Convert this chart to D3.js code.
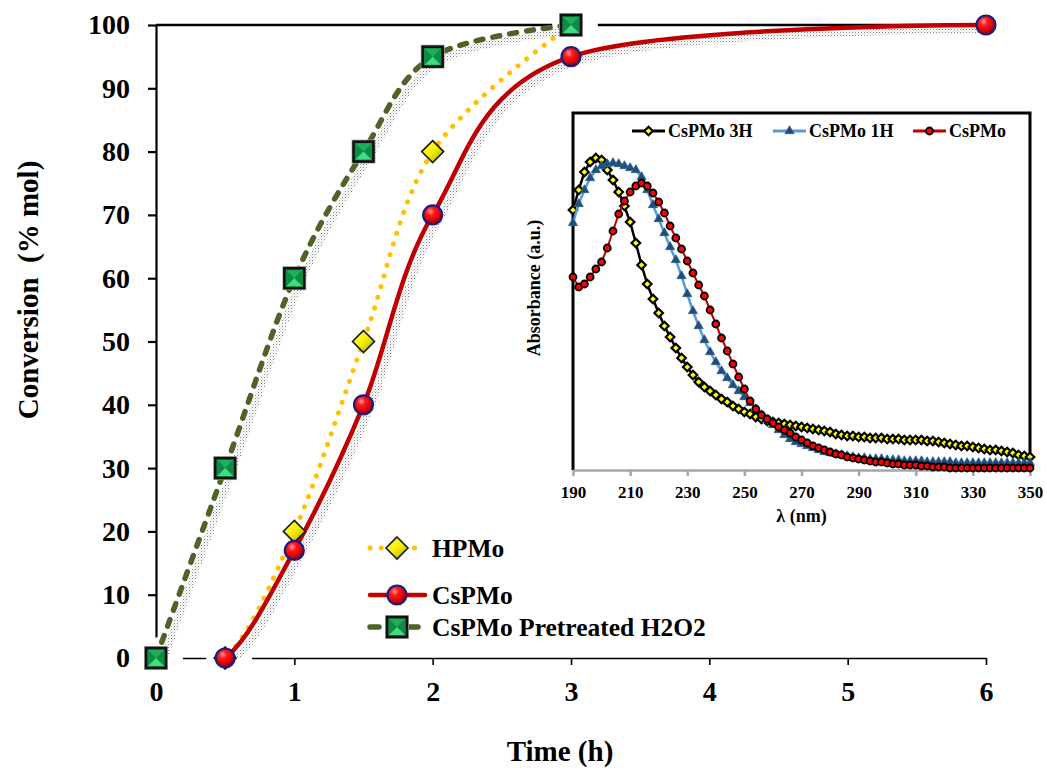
<!DOCTYPE html>
<html lang="en">
<head>
<meta charset="UTF-8">
<title>Conversion vs time</title>
<script src="https://d3js.org/d3.v7.min.js"></script>
<style>
  body { margin: 0; background: #fff; }
  svg { display: block; font-family: "Liberation Serif", "Times New Roman", serif; font-weight: bold; }
</style>
</head>
<body>
<div id="chart"></div>
<script>
const width = 1047, height = 770;

// main chart data
const timeTicks = [0, 1, 2, 3, 4, 5, 6];
const convTicks = [0, 10, 20, 30, 40, 50, 60, 70, 80, 90, 100];
const hpmoTime = [0, 0.5, 1, 1.5, 2, 3];
const hpmoConv = [0, 0, 20, 50, 80, 100];
const cspmoTime = [0, 0.5, 1, 1.5, 2, 3, 6];
const cspmoConv = [0, 0, 17, 40, 70, 95, 100];
const h2o2Time = [0, 0.5, 1, 1.5, 2, 3];
const h2o2Conv = [0, 30, 60, 80, 95, 100];

// inset (UV-vis) data, one value every 2 nm from 190 to 350
const lambdaTicks = [190, 210, 230, 250, 270, 290, 310, 330, 350];
const lambda = d3.range(190, 351, 2);
const abs3H = [
  2.60, 2.80, 2.98, 3.08, 3.12, 3.10, 3.00, 2.90, 2.78, 2.64,
  2.48, 2.27, 2.05, 1.86, 1.71, 1.57, 1.44, 1.33, 1.22, 1.12,
  1.03, 0.95, 0.88, 0.83, 0.79, 0.75, 0.71, 0.68, 0.64, 0.61,
  0.58, 0.56, 0.53, 0.51, 0.49, 0.48, 0.47, 0.46, 0.45, 0.44,
  0.43, 0.42, 0.41, 0.40, 0.39, 0.38, 0.36, 0.35, 0.34, 0.34,
  0.33, 0.33, 0.32, 0.32, 0.32, 0.31, 0.31, 0.31, 0.30, 0.30,
  0.30, 0.30, 0.29, 0.29, 0.28, 0.27, 0.26, 0.25, 0.24, 0.24,
  0.23, 0.22, 0.21, 0.20, 0.20, 0.19, 0.18, 0.17, 0.15, 0.14,
  0.13
];
const abs1H = [
  2.47, 2.66, 2.80, 2.92, 3.00, 3.04, 3.06, 3.07, 3.06, 3.04,
  3.02, 3.00, 2.93, 2.80, 2.65, 2.51, 2.37, 2.23, 2.10, 1.94,
  1.76, 1.59, 1.44, 1.30, 1.18, 1.08, 0.99, 0.92, 0.85, 0.79,
  0.73, 0.67, 0.61, 0.55, 0.50, 0.45, 0.40, 0.35, 0.31, 0.28,
  0.26, 0.24, 0.22, 0.20, 0.18, 0.17, 0.16, 0.15, 0.14, 0.13,
  0.12, 0.12, 0.11, 0.11, 0.11, 0.10, 0.10, 0.10, 0.09, 0.09,
  0.09, 0.09, 0.08, 0.08, 0.08, 0.08, 0.08, 0.07, 0.07, 0.07,
  0.07, 0.07, 0.07, 0.07, 0.07, 0.07, 0.07, 0.07, 0.07, 0.07,
  0.07
];
const absCs = [
  1.93, 1.83, 1.86, 1.93, 2.01, 2.08, 2.22, 2.39, 2.56, 2.69,
  2.78, 2.84, 2.87, 2.84, 2.77, 2.68, 2.57, 2.44, 2.32, 2.21,
  2.09, 1.97, 1.85, 1.74, 1.60, 1.46, 1.32, 1.19, 1.06, 0.93,
  0.81, 0.69, 0.61, 0.55, 0.51, 0.47, 0.43, 0.40, 0.37, 0.33,
  0.30, 0.27, 0.24, 0.22, 0.20, 0.18, 0.16, 0.15, 0.13, 0.12,
  0.11, 0.10, 0.09, 0.08, 0.08, 0.07, 0.06, 0.06, 0.05, 0.05,
  0.05, 0.04, 0.04, 0.03, 0.03, 0.03, 0.02, 0.02, 0.02, 0.02,
  0.02, 0.02, 0.02, 0.02, 0.02, 0.02, 0.02, 0.02, 0.02, 0.02,
  0.02
];

const svg = d3.select("#chart").append("svg")
    .attr("width", width)
    .attr("height", height);
const defs = svg.append("defs");

// gradients for the 3D looking markers
const ball = defs.append("radialGradient").attr("id", "ballRed")
    .attr("cx", "38%").attr("cy", "32%").attr("r", "70%");
ball.append("stop").attr("offset", "0%").attr("stop-color", "#ff9c9c");
ball.append("stop").attr("offset", "30%").attr("stop-color", "#ff1a1a");
ball.append("stop").attr("offset", "75%").attr("stop-color", "#d40000");
ball.append("stop").attr("offset", "100%").attr("stop-color", "#7a0000");

const dia = defs.append("linearGradient").attr("id", "diaYellow")
    .attr("x1", 0).attr("y1", 0).attr("x2", 1).attr("y2", 1);
dia.append("stop").attr("offset", "0%").attr("stop-color", "#ffff70");
dia.append("stop").attr("offset", "50%").attr("stop-color", "#f5ef00");
dia.append("stop").attr("offset", "100%").attr("stop-color", "#a89a00");

// stipple used for the line shadows
const pat = defs.append("pattern").attr("id", "stipple")
    .attr("patternUnits", "userSpaceOnUse").attr("width", 3).attr("height", 3);
pat.append("rect").attr("width", 1).attr("height", 1).attr("fill", "#5a5a5a");
pat.append("rect").attr("x", 1.5).attr("y", 1.5).attr("width", 1).attr("height", 1).attr("fill", "#9a9a9a");

// ---------- main chart ----------
const x = d3.scaleLinear().domain([0, 6]).range([156, 986]);
const y = d3.scaleLinear().domain([0, 100]).range([658, 25]);

defs.append("clipPath").attr("id", "plotClip")
  .append("rect").attr("x", x(0)).attr("y", 0)
    .attr("width", width - x(0)).attr("height", y(0));

const yAxis = svg.append("g")
    .attr("transform", `translate(${x(0)},0)`)
    .call(d3.axisLeft(y).tickValues(convTicks).tickSize(8).tickSizeOuter(0).tickPadding(18));
const xAxis = svg.append("g")
    .attr("transform", `translate(0,${y(0)})`)
    .call(d3.axisBottom(x).tickValues(timeTicks).tickFormat(d3.format("d"))
      .tickSize(7).tickSizeOuter(0).tickPadding(16));
[yAxis, xAxis].forEach(g => {
  g.attr("font-family", null).attr("font-size", null);
  g.selectAll("text").attr("font-size", 28).attr("fill", "#000");
});
yAxis.selectAll("path, line").attr("stroke", "#000").attr("stroke-width", 2.2);
xAxis.selectAll("path, line").attr("stroke", "#000").attr("stroke-width", 1.6);

// plot area top border
svg.append("line")
    .attr("x1", x(0)).attr("x2", x(6))
    .attr("y1", y(100)).attr("y2", y(100))
    .attr("stroke", "#000").attr("stroke-width", 2.6);

const series = [
  { name: "HPMo", t: hpmoTime, v: hpmoConv, color: "#FFC000", width: 5, dash: "0.1 11", marker: "diamond", shadow: false },
  { name: "CsPMo", t: cspmoTime, v: cspmoConv, color: "#C00000", width: 4.5, dash: null, marker: "ball", shadow: true },
  { name: "CsPMo Pretreated H2O2", t: h2o2Time, v: h2o2Conv, color: "#4F6228", width: 5.5, dash: "7 10", marker: "square", shadow: true }
];
series.forEach(s => { s.pts = s.t.map((t, i) => [t, s.v[i]]); });

// white glow behind markers (hides the axis lines there)
const glowR = { diamond: 23, ball: 17, square: 17 };
const glow = svg.append("g");
series.forEach(s => {
  glow.selectAll(null).data(s.pts).join("circle")
      .attr("cx", d => x(d[0]) + 4).attr("cy", d => y(d[1]) + 2)
      .attr("r", glowR[s.marker]).attr("fill", "#fff");
});

const line = d3.line()
    .x(d => x(d[0])).y(d => y(d[1]))
    .curve(d3.curveCardinal.tension(0));

const plot = svg.append("g").attr("clip-path", "url(#plotClip)");
series.filter(s => s.shadow).forEach(s => {
  plot.append("path")
      .attr("d", line(s.pts))
      .attr("transform", "translate(6,5)")
      .attr("fill", "none")
      .attr("stroke", "url(#stipple)")
      .attr("stroke-width", 7)
      .attr("opacity", 0.75);
});

function drawMarker(g, type, cx, cy) {
  if (type === "diamond") {
    const r = 11;
    g.append("path")
        .attr("d", `M${cx},${cy - r}L${cx + r},${cy}L${cx},${cy + r}L${cx - r},${cy}Z`)
        .attr("fill", "url(#diaYellow)").attr("stroke", "#1a1a1a").attr("stroke-width", 1.6);
  } else if (type === "ball") {
    g.append("circle").attr("cx", cx).attr("cy", cy).attr("r", 9.5)
        .attr("fill", "url(#ballRed)").attr("stroke", "#1b1b87").attr("stroke-width", 2.2);
  } else {
    const h = 10;
    g.append("rect").attr("x", cx - h - 1.5).attr("y", cy - h - 1.5)
        .attr("width", 2 * h + 3).attr("height", 2 * h + 3)
        .attr("fill", "none").attr("stroke", "#b0b0b0").attr("stroke-width", 1);
    g.append("rect").attr("x", cx - h).attr("y", cy - h)
        .attr("width", 2 * h).attr("height", 2 * h)
        .attr("fill", "#0f8a45").attr("stroke", "#111").attr("stroke-width", 2.6);
    const i = h - 2;
    g.append("path")
        .attr("d", `M${cx - i},${cy - i}L${cx + i},${cy - i}L${cx},${cy}Z`)
        .attr("fill", "#1fae5b");
    g.append("path")
        .attr("d", `M${cx - i},${cy + i}L${cx + i},${cy + i}L${cx},${cy}Z`)
        .attr("fill", "#3fdc80");
  }
}

const marks = svg.append("g");
series.forEach(s => {
  const p = plot.append("path")
      .attr("d", line(s.pts))
      .attr("fill", "none")
      .attr("stroke", s.color)
      .attr("stroke-width", s.width)
      .attr("stroke-linecap", "round");
  if (s.dash) p.attr("stroke-dasharray", s.dash);
  const mg = marks.append("g");
  s.pts.forEach(d => drawMarker(mg, s.marker, x(d[0]), y(d[1])));
});

// axis titles
svg.append("text")
    .attr("x", 560).attr("y", 761)
    .attr("text-anchor", "middle")
    .attr("font-size", 29)
    .text("Time (h)");
svg.append("text")
    .attr("transform", "translate(38,290) rotate(-90)")
    .attr("text-anchor", "middle")
    .attr("font-size", 29)
    .attr("xml:space", "preserve")
    .text("Conversion  (% mol)");

// main legend
const legendRows = [548, 595, 627];
series.forEach((s, i) => {
  const ly = legendRows[i];
  const lg = svg.append("g");
  const l = lg.append("line")
      .attr("x1", 370).attr("x2", 425).attr("y1", ly).attr("y2", ly)
      .attr("stroke", s.color).attr("stroke-width", s.width)
      .attr("stroke-linecap", "round");
  if (s.dash) l.attr("stroke-dasharray", s.marker === "square" ? "9 30" : "0.1 11");
  drawMarker(lg, s.marker, 397, ly);
  lg.append("text")
      .attr("x", 432).attr("y", ly).attr("dy", "0.35em")
      .attr("font-size", 25.5)
      .text(s.name);
});

// ---------- inset ----------
const xi = d3.scaleLinear().domain([190, 350]).range([573, 1030]);
const yi = d3.scaleLinear().domain([0, 3.57]).range([470, 113]);

const inset = svg.append("g");
inset.append("rect")
    .attr("x", xi(190)).attr("y", yi(3.57))
    .attr("width", xi(350) - xi(190)).attr("height", yi(0) - yi(3.57))
    .attr("fill", "#fff");
inset.append("path")
    .attr("d", `M${xi(190)},${yi(0)}V${yi(3.57)}H${xi(350)}V${yi(0)}`)
    .attr("fill", "none").attr("stroke", "#000").attr("stroke-width", 3);

const xiAxis = inset.append("g")
    .attr("transform", `translate(0,${yi(0)})`)
    .call(d3.axisBottom(xi).tickValues(lambdaTicks).tickSize(6).tickSizeOuter(0).tickPadding(10));
xiAxis.attr("font-family", null).attr("font-size", null);
xiAxis.selectAll("path, line").attr("stroke", "#a6a6a6").attr("stroke-width", 2.5);
xiAxis.selectAll("text").attr("font-size", 17).attr("fill", "#000");

inset.append("text")
    .attr("x", (xi(190) + xi(350)) / 2).attr("y", 522)
    .attr("text-anchor", "middle").attr("font-size", 18)
    .text("λ (nm)");
inset.append("text")
    .attr("transform", "translate(540,288) rotate(-90)")
    .attr("text-anchor", "middle").attr("font-size", 18)
    .text("Absorbance (a.u.)");

const spectra = [
  { name: "CsPMo 3H", v: abs3H, line: "#000", lw: 2.5, marker: "diamond" },
  { name: "CsPMo 1H", v: abs1H, line: "#5B9BD5", lw: 2.5, marker: "triangle" },
  { name: "CsPMo", v: absCs, line: "#C00000", lw: 2, marker: "circle" }
];
const iline = d3.line().x(d => xi(d[0])).y(d => yi(d[1]));
const triPath = d3.symbol(d3.symbolTriangle, 36)();

function drawSmall(g, type, cx, cy) {
  if (type === "diamond") {
    const r = 4.3;
    g.append("path")
        .attr("d", `M${cx},${cy - r}L${cx + r},${cy}L${cx},${cy + r}L${cx - r},${cy}Z`)
        .attr("fill", "#ffff00").attr("stroke", "#000").attr("stroke-width", 2.2);
  } else if (type === "triangle") {
    g.append("path").attr("d", triPath)
        .attr("transform", `translate(${cx},${cy})`)
        .attr("fill", "#1F4E79").attr("stroke", "#2e5f8f").attr("stroke-width", 0.8);
  } else {
    g.append("circle").attr("cx", cx).attr("cy", cy).attr("r", 3.5)
        .attr("fill", "#ff0000").attr("stroke", "#000").attr("stroke-width", 1.8);
  }
}

spectra.forEach(s => {
  const pts = lambda.map((l, i) => [l, s.v[i]]);
  inset.append("path")
      .attr("d", iline(pts))
      .attr("fill", "none").attr("stroke", s.line).attr("stroke-width", s.lw);
  const mg = inset.append("g");
  pts.forEach(d => drawSmall(mg, s.marker, xi(d[0]), yi(d[1])));
});

// inset legend
const insetLegend = [632, 773, 913];
spectra.forEach((s, i) => {
  const lx = insetLegend[i], ly = 131;
  inset.append("line")
      .attr("x1", lx).attr("x2", lx + 33).attr("y1", ly).attr("y2", ly)
      .attr("stroke", s.line).attr("stroke-width", 3);
  drawSmall(inset, s.marker, lx + 16.5, ly);
  inset.append("text")
      .attr("x", lx + 36).attr("y", ly).attr("dy", "0.35em")
      .attr("font-size", 18)
      .text(s.name);
});
</script>
</body>
</html>
